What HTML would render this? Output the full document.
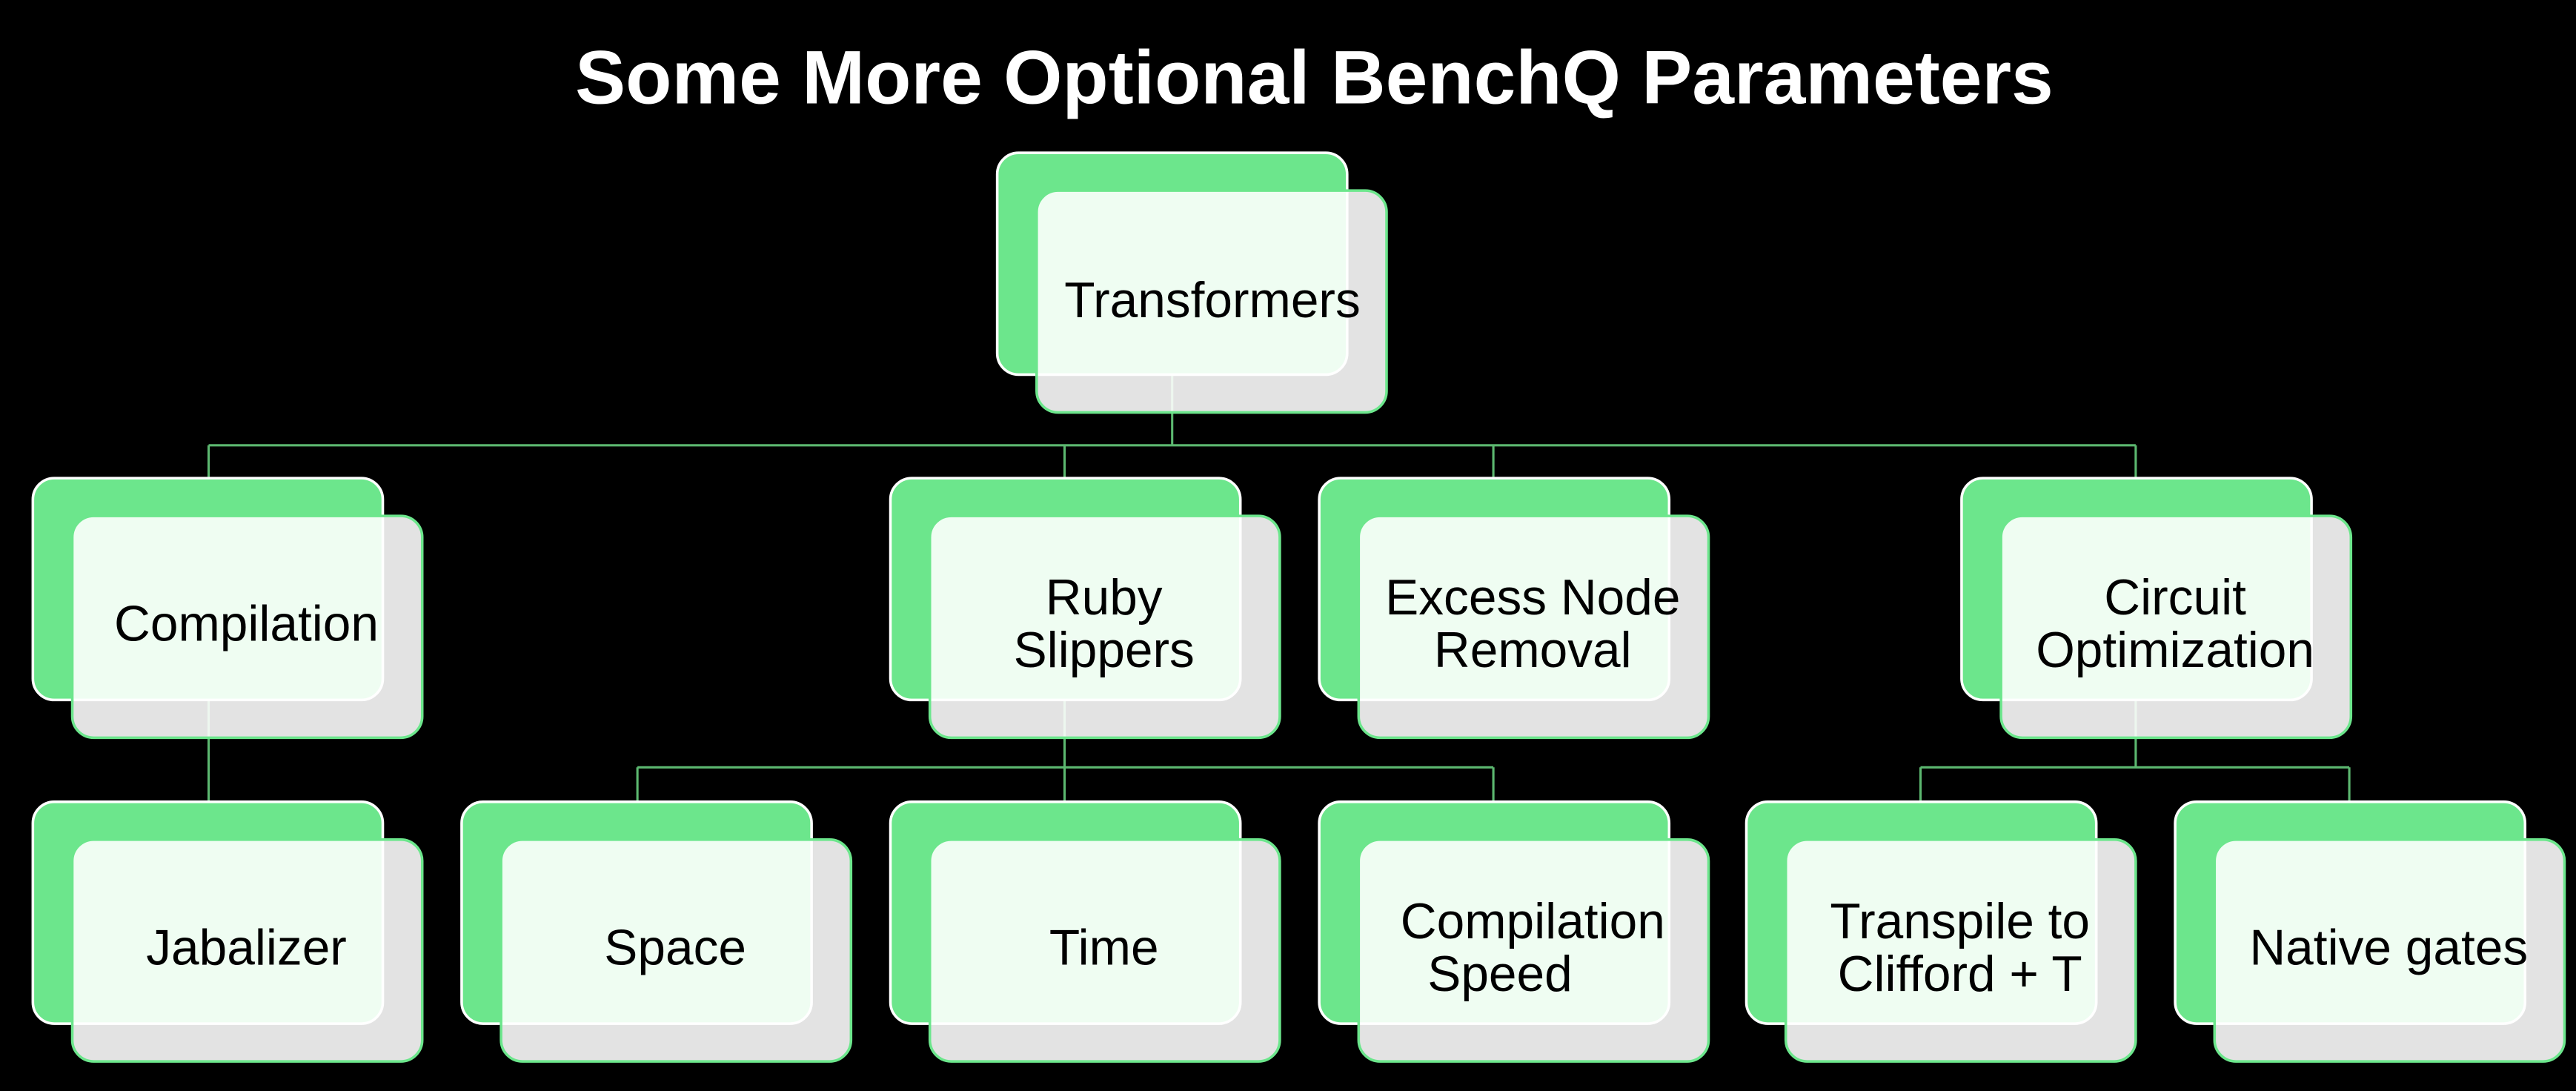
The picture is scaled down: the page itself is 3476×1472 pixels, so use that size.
<!DOCTYPE html>
<html><head><meta charset="utf-8"><style>
html,body{margin:0;padding:0;background:#000;}
svg{display:block}
text{font-family:"Liberation Sans",Arial,sans-serif;}
</style></head><body>
<svg width="3476" height="1472" viewBox="0 0 1568 664" xmlns="http://www.w3.org/2000/svg">
<rect width="1568" height="664" fill="#000"/>
<text x="800" y="63" text-anchor="middle" font-size="46" font-weight="bold" fill="#fff">Some More Optional BenchQ Parameters</text>
<g stroke="#5cb870" stroke-width="1.4" fill="none">
<path d="M713.5 228V271M127 271H1300M127 271V291M648 271V291M909 271V291M1300 271V291"/>
<path d="M127 426V488"/>
<path d="M648 426V467M388 467H909M388 467V488M648 467V488M909 467V488"/>
<path d="M1300 426V467M1169 467H1430M1169 467V488M1430 467V488"/>
</g>
<defs>
<g id="n">
<rect x="0" y="0" width="213" height="135" rx="13" fill="#6ce68c" stroke="#fff" stroke-width="1.6"/>
<rect x="24" y="23" width="213" height="135" rx="13" fill="rgba(255,255,255,0.89)" stroke="#6ce68c" stroke-width="1.6"/>
</g>
</defs>
<use href="#n" x="607" y="93"/>
<use href="#n" x="20" y="291"/>
<use href="#n" x="542" y="291"/>
<use href="#n" x="803" y="291"/>
<use href="#n" x="1194" y="291"/>
<use href="#n" x="20" y="488"/>
<use href="#n" x="281" y="488"/>
<use href="#n" x="542" y="488"/>
<use href="#n" x="803" y="488"/>
<use href="#n" x="1063" y="488"/>
<use href="#n" x="1324" y="488"/>
<g font-size="30.5" fill="#000" text-anchor="middle">
<text x="738" y="193">Transformers</text>
<text x="150" y="390">Compilation</text>
<text x="672" y="374">Ruby</text><text x="672" y="406">Slippers</text>
<text x="933" y="374">Excess Node</text><text x="933" y="406">Removal</text>
<text x="1324" y="374">Circuit</text><text x="1324" y="406">Optimization</text>
<text x="150" y="587">Jabalizer</text>
<text x="411" y="587">Space</text>
<text x="672" y="587">Time</text>
<text x="933" y="571">Compilation</text><text x="913" y="603">Speed</text>
<text x="1193" y="571">Transpile to</text><text x="1193" y="603">Clifford + T</text>
<text x="1454" y="587">Native gates</text>
</g>
</svg>
</body></html>
